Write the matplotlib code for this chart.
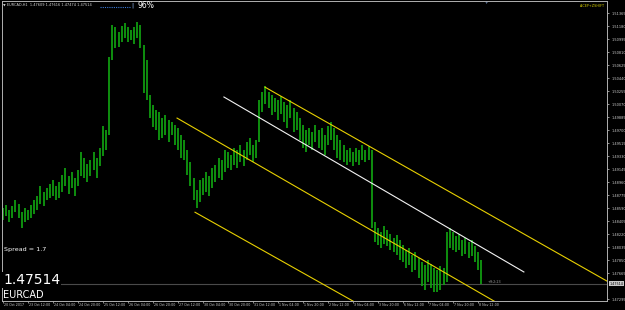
import numpy as np
import matplotlib
matplotlib.use("Agg")
import matplotlib.pyplot as plt
import matplotlib.transforms as mtransforms

# --- data (EURCAD H1, shown as 2h bars) ---
symbol = 'EURCAD'
header_ohlc = ['1.47609', '1.47616', '1.47474', '1.47514']
bid = 1.47514
spread = 1.7

time_labels = ['20 Oct 2017', '23 Oct 12:00', '24 Oct 04:00', '24 Oct 20:00', '25 Oct 12:00',
               '26 Oct 04:00', '26 Oct 20:00', '27 Oct 12:00', '30 Oct 04:00', '30 Oct 20:00',
               '31 Oct 12:00', '1 Nov 04:00', '1 Nov 20:00', '2 Nov 12:00', '3 Nov 04:00',
               '3 Nov 20:00', '6 Nov 12:00', '7 Nov 04:00', '7 Nov 20:00', '8 Nov 12:00']

price_ticks = [1.47295, 1.47480, 1.47665, 1.47850, 1.48035, 1.48220, 1.48405, 1.48590,
               1.48775, 1.48960, 1.49145, 1.49330, 1.49515, 1.49700, 1.49885, 1.50070,
               1.50255, 1.50440, 1.50625, 1.50810, 1.50995, 1.51180, 1.51365]

bar_high = [1.4859, 1.4863, 1.4856, 1.4862, 1.4870, 1.4865, 1.4853, 1.4859, 1.4856, 1.4863,
            1.4870, 1.4876, 1.4890, 1.4882, 1.4887, 1.4893, 1.4899, 1.4890, 1.4896, 1.4906,
            1.4916, 1.4905, 1.4910, 1.4902, 1.4913, 1.4939, 1.4930, 1.4922, 1.4927, 1.4939,
            1.4930, 1.4944, 1.4976, 1.4970, 1.5074, 1.5119, 1.5116, 1.5109, 1.5118, 1.5122,
            1.5116, 1.5112, 1.5116, 1.5124, 1.5119, 1.5091, 1.5070, 1.5020, 1.5006, 1.4998,
            1.4996, 1.4987, 1.4991, 1.4984, 1.4981, 1.4977, 1.4973, 1.4963, 1.4956, 1.4942,
            1.4924, 1.4902, 1.4885, 1.4899, 1.4902, 1.4910, 1.4905, 1.4916, 1.4920, 1.4930,
            1.4927, 1.4942, 1.4939, 1.4934, 1.4944, 1.4942, 1.4949, 1.4942, 1.4953, 1.4959,
            1.4949, 1.4956, 1.5013, 1.5024, 1.5033, 1.5024, 1.5020, 1.5016, 1.5013, 1.5018,
            1.5010, 1.5006, 1.5013, 1.5001, 1.4996, 1.4987, 1.4977, 1.4970, 1.4973, 1.4967,
            1.4977, 1.4970, 1.4973, 1.4963, 1.4976, 1.4981, 1.4973, 1.4963, 1.4956, 1.4949,
            1.4942, 1.4944, 1.4939, 1.4944, 1.4942, 1.4949, 1.4942, 1.4947, 1.4942, 1.4839,
            1.4831, 1.4825, 1.4833, 1.4828, 1.4822, 1.4816, 1.4821, 1.4814, 1.4806, 1.4799,
            1.4802, 1.4792, 1.4796, 1.4788, 1.4782, 1.4778, 1.4785, 1.4779, 1.4774, 1.4771,
            1.4776, 1.4774, 1.4825, 1.4831, 1.4825, 1.4819, 1.4822, 1.4814, 1.4816, 1.4811,
            1.4814, 1.4805, 1.4796, 1.4785]

bar_low = [1.4842, 1.4848, 1.4839, 1.4845, 1.4853, 1.4845, 1.4831, 1.4839, 1.4842, 1.4845,
           1.4850, 1.4856, 1.4865, 1.4862, 1.4870, 1.4873, 1.4876, 1.4870, 1.4873, 1.4882,
           1.4890, 1.4879, 1.4887, 1.4876, 1.4890, 1.4905, 1.4902, 1.4896, 1.4905, 1.4913,
           1.4902, 1.4919, 1.4933, 1.4942, 1.4963, 1.5070, 1.5087, 1.5088, 1.5095, 1.5101,
           1.5095, 1.5098, 1.5092, 1.5101, 1.5087, 1.5023, 1.5013, 1.4987, 1.4974, 1.4970,
           1.4956, 1.4959, 1.4963, 1.4953, 1.4963, 1.4949, 1.4942, 1.4930, 1.4927, 1.4906,
           1.4890, 1.4870, 1.4859, 1.4868, 1.4878, 1.4882, 1.4876, 1.4887, 1.4896, 1.4902,
           1.4899, 1.4910, 1.4916, 1.4913, 1.4920, 1.4916, 1.4924, 1.4919, 1.4927, 1.4934,
           1.4924, 1.4930, 1.4953, 1.4996, 1.5007, 1.5001, 1.4991, 1.4996, 1.4984, 1.4993,
           1.4981, 1.4973, 1.4987, 1.4967, 1.4970, 1.4956, 1.4944, 1.4939, 1.4949, 1.4942,
           1.4953, 1.4944, 1.4942, 1.4934, 1.4949, 1.4956, 1.4942, 1.4930, 1.4927, 1.4924,
           1.4920, 1.4924, 1.4919, 1.4924, 1.4920, 1.4927, 1.4924, 1.4927, 1.4831, 1.4811,
           1.4806, 1.4802, 1.4808, 1.4805, 1.4799, 1.4796, 1.4792, 1.4785, 1.4782, 1.4774,
           1.4778, 1.4768, 1.4771, 1.4759, 1.4748, 1.4742, 1.4754, 1.4745, 1.4740, 1.4740,
           1.4742, 1.4749, 1.4754, 1.4802, 1.4799, 1.4796, 1.4799, 1.4791, 1.4794, 1.4788,
           1.4791, 1.4782, 1.4771, 1.4751]

# trend lines as (hour, price) anchor pairs; rays run on to the right edge
upper_ray = [(167.7, 1.5031), (386.6, 1.4755)]
mid_line = [(141.4, 1.5017), (333.4, 1.4768)]
low_ray_a = [(111.4, 1.4987), (290.6, 1.4757)]
low_ray_b = [(122.9, 1.4853), (199.7, 1.4757)]

W, H = 625, 310
fig = plt.figure(figsize=(W / 100, H / 100), dpi=100, facecolor='black')
ax = fig.add_axes([2 / W, 9 / H, 605 / W, 300 / H], facecolor='black')

hours = np.arange(len(bar_high)) * 2
ax.vlines(hours, bar_low, bar_high, color='#12a812', lw=1.2)

def ray(p, q, end=600):
    (h0, p0), (h1, p1) = p, q
    k = (p1 - p0) / (h1 - h0)
    return [h0, end], [p0, p0 + k * (end - h0)]

yellow = '#e8d000'
for r in (upper_ray, low_ray_a, low_ray_b):
    xs, ys = ray(*r)
    ax.plot(xs, ys, color=yellow, lw=0.8)
ax.plot([mid_line[0][0], mid_line[1][0]], [mid_line[0][1], mid_line[1][1]],
        color='#f2f2f2', lw=0.8)

# bid line
ax.axhline(bid, color='#4a4a4a', lw=0.8, zorder=0)
ax.text(310, bid + 0.0002, '+9:2:23', color='#a0a0a0', fontsize=2.4, va='center')

ax.set_xlim(-0.64, 386.6)
ax.set_ylim(1.47267, 1.51536)

for s in ax.spines.values():
    s.set_color('#b0b0b0')
    s.set_linewidth(0.7)

# time axis
tick_hours = np.arange(len(time_labels)) * 16
ax.set_xticks(tick_hours)
ax.set_xticklabels([])
ax.tick_params(axis='x', colors='#c0c0c0', length=1.5, width=0.5, direction='out')
trans = mtransforms.blended_transform_factory(ax.transData, ax.transAxes)
for h, lab in zip(tick_hours, time_labels):
    ax.text(h + 0.8, -0.008, lab, transform=trans, color='#d0d0d0', fontsize=2.3,
            ha='left', va='top')

# price axis
ax.yaxis.tick_right()
shown = [t for t in price_ticks if abs(t - bid) > 0.0008]
ax.set_yticks(shown)
ax.set_yticklabels(['%.5f' % t for t in shown])
ax.tick_params(axis='y', colors='#d0d0d0', labelsize=2.5, length=1.5, width=0.5, pad=1.5)
ax.text(1.004, bid, '%.5f' % bid, transform=mtransforms.blended_transform_factory(ax.transAxes, ax.transData),
        fontsize=2.4, color='black', va='center', ha='left',
        bbox=dict(facecolor='#c8c8c8', edgecolor='none', pad=0.6))

# chart overlays
fig.text(3 / W, 1 - 5 / H, '\u25bc %s,H1  %s' % (symbol, ' '.join(header_ohlc)),
         color='#d8d8d8', fontsize=2.5, va='center', ha='left')
ax.plot([100 / W, 130 / W], [1 - 7 / H, 1 - 7 / H], transform=fig.transFigure,
        color='#3a7ad8', lw=0.8, ls=(0, (1, 1)))
fig.text(131 / W, 1 - 5 / H, '|', color='#9ec4ff', fontsize=4.5, va='center', ha='left')
fig.text(137 / W, 1 - 5 / H, '96%', color='white', fontsize=5.5, va='center', ha='left')
fig.text(486 / W, 1 - 3 / H, '+', color='#9ec4ff', fontsize=3, va='center', ha='center')
fig.text(605 / W, 1 - 6 / H, 'A-CEP+ZSHIFT', color='#d8d000', fontsize=2.4, va='center', ha='right')

fig.text(4 / W, 1 - 249.5 / H, 'Spread = %.1f' % spread, color='white', fontsize=4.6,
         va='center', ha='left')
fig.text(3 / W, 1 - 280 / H, '%.5f' % bid, color='white', fontsize=10, va='center', ha='left',
         bbox=dict(facecolor='black', edgecolor='none', pad=0.5))
fig.text(3 / W, 1 - 294.5 / H, symbol, color='white', fontsize=7, va='center', ha='left')

fig.savefig('out.png', dpi=100, facecolor='black')
